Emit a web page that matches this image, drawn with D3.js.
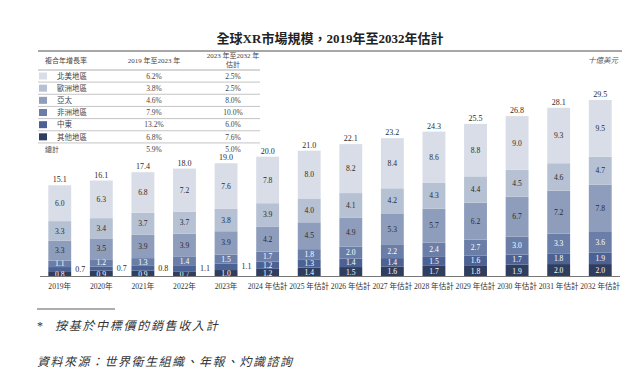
<!DOCTYPE html>
<html><head><meta charset="utf-8">
<script src="https://cdn.jsdelivr.net/npm/d3@7/dist/d3.min.js"></script>
<style>
html,body{margin:0;padding:0;background:#fff;}
svg{display:block;}
text{font-family:"Liberation Serif","Noto Sans CJK TC",serif;}
</style></head>
<body>
<svg id="c" width="640" height="376"></svg>
<script>
const years = ["2019年","2020年","2021年","2022年","2023年","2024 年估計","2025 年估計","2026 年估計","2027 年估計","2028 年估計","2029 年估計","2030 年估計","2031 年估計","2032 年估計"];
const totals = [15.1,16.1,17.4,18.0,19.0,20.0,21.0,22.1,23.2,24.3,25.5,26.8,28.1,29.5];
const seriesNames = ["其他地區","中東","非洲地區","亞太","歐洲地區","北美地區"];
const other   = [0.8,0.9,0.9,0.7,1.0,1.2,1.4,1.5,1.6,1.7,1.8,1.9,2.0,2.0];
const midEast = [0.7,0.7,0.8,1.1,1.1,1.2,1.3,1.4,1.4,1.5,1.6,1.7,1.8,1.9];
const africa  = [1.1,1.2,1.3,1.4,1.5,1.7,1.8,2.0,2.2,2.4,2.7,3.0,3.3,3.6];
const apac    = [3.3,3.5,3.9,3.9,3.9,4.2,4.5,4.9,5.3,5.7,6.2,6.7,7.2,7.8];
const europe  = [3.3,3.4,3.7,3.7,3.8,3.9,4.0,4.1,4.2,4.3,4.4,4.5,4.6,4.7];
const nAmerica= [6.0,6.3,6.8,7.2,7.6,7.8,8.0,8.2,8.4,8.6,8.8,9.0,9.3,9.5];
const legendNames = ["北美地區","歐洲地區","亞太","非洲地區","中東","其他地區"];
const cagr1 = ["6.2%","3.8%","4.6%","7.9%","13.2%","6.8%"];
const cagr2 = ["2.5%","2.5%","8.0%","10.0%","6.0%","7.6%"];
const totalCagr = ["5.9%","5.0%"];
const colors = ["#2f3d5f","#4d6294","#6b7ea8","#8f9dbd","#b6c1d4","#d8dde7"];
const textColors = ["#fff","#fff","#fff","#2a2a2a","#2a2a2a","#2a2a2a"];

const svg = d3.select("#c");
const seriesVals = [other, midEast, africa, apac, europe, nAmerica];
const rows = years.map((y,i)=>{const o={year:y,i:i}; seriesNames.forEach((s,k)=>o[s]=seriesVals[k][i]); return o;});
const stack = d3.stack().keys(seriesNames)(rows);

const x = d3.scaleBand().domain(years).range([40,620]).paddingInner(0.45).paddingOuter(0.2);
const y = d3.scaleLinear().domain([0,29.5]).range([276,100]);

// title
svg.append("text").attr("x",330).attr("y",43).attr("text-anchor","middle")
  .attr("font-size",13).attr("font-weight","bold").attr("fill","#222")
  .text("全球XR市場規模，2019年至2032年估計");
svg.append("line").attr("x1",38).attr("x2",622).attr("y1",51).attr("y2",51)
  .attr("stroke","#8a8a8a").attr("stroke-width",1.6);
svg.append("text").attr("x",618).attr("y",63).attr("text-anchor","end")
  .attr("font-size",7.5).attr("font-style","italic").attr("fill","#555").text("十億美元");

// bars
const g = svg.append("g");
const isOut = (k,d)=>k===1 && d.data.i<5;
stack.forEach((s,k)=>{
  g.selectAll(null).data(s).enter().append("rect")
    .attr("x",d=>x(d.data.year)).attr("width",x.bandwidth())
    .attr("y",d=>y(d[1])).attr("height",d=>y(d[0])-y(d[1]))
    .attr("fill",colors[k]);
  g.selectAll(null).data(s).enter().append("text")
    .attr("x",d=>isOut(k,d)? x(d.data.year)+x.bandwidth()+4 : x(d.data.year)+x.bandwidth()/2)
    .attr("y",d=>(y(d[0])+y(d[1]))/2+(k===0?3.2:2.6))
    .attr("text-anchor",d=>isOut(k,d)?"start":"middle")
    .attr("font-size",d=>isOut(k,d)?8:7.6).attr("fill",d=>isOut(k,d)?"#2a2a2a":textColors[k])
    .text(d=>(d[1]-d[0]).toFixed(1));
});
// totals
g.selectAll(null).data(rows).enter().append("text")
  .attr("x",d=>x(d.year)+x.bandwidth()/2).attr("y",d=>y(stack[5][d.i][1])-3)
  .attr("text-anchor","middle").attr("font-size",8).attr("fill","#2a2a2a")
  .text(d=>totals[d.i].toFixed(1));

// axis
const ax = svg.append("g").attr("transform","translate(0,276)")
  .call(d3.axisBottom(x).tickSize(0).tickPadding(8));
ax.select(".domain").attr("stroke","#777").attr("stroke-width",1)
  .attr("d","M40,0.5H620");
ax.selectAll("text").attr("font-size",7.6).attr("fill","#333")
  .attr("font-family","\"Liberation Serif\",\"Noto Sans CJK TC\",serif");

// legend table
const lt = svg.append("g");
lt.append("text").attr("x",45).attr("y",63).attr("font-size",7).attr("fill","#444").text("複合年增長率");
lt.append("text").attr("x",154).attr("y",63).attr("text-anchor","middle").attr("font-size",7).attr("fill","#444").text("2019 年至2023 年");
lt.append("text").attr("x",233).attr("y",58).attr("text-anchor","middle").attr("font-size",7).attr("fill","#444").text("2023 年至2032 年");
lt.append("text").attr("x",233).attr("y",67).attr("text-anchor","middle").attr("font-size",7).attr("fill","#444").text("估計");
lt.append("line").attr("x1",38).attr("x2",260).attr("y1",70).attr("y2",70).attr("stroke","#999").attr("stroke-width",0.8);
const rowY = d3.scaleLinear().domain([0,6]).range([76,149]);
legendNames.forEach((n,i)=>{
  const cy = rowY(i);
  lt.append("rect").attr("x",39).attr("y",cy-3.5).attr("width",8).attr("height",7)
    .attr("fill",colors[5-i]);
  lt.append("text").attr("x",57).attr("y",cy+2.7).attr("font-size",7.5).attr("fill","#444").text(n);
  lt.append("text").attr("x",154).attr("y",cy+2.7).attr("text-anchor","middle").attr("font-size",7.5).attr("fill","#444").text(cagr1[i]);
  lt.append("text").attr("x",233).attr("y",cy+2.7).attr("text-anchor","middle").attr("font-size",7.5).attr("fill","#444").text(cagr2[i]);
  lt.append("line").attr("x1",38).attr("x2",260).attr("y1",cy+6.1).attr("y2",cy+6.1).attr("stroke","#aaa").attr("stroke-width",0.7);
});
const ty = rowY(6);
lt.append("text").attr("x",45).attr("y",ty+2.7).attr("font-size",7).attr("fill","#444").text("總計");
lt.append("text").attr("x",154).attr("y",ty+2.7).attr("text-anchor","middle").attr("font-size",7.5).attr("fill","#444").text(totalCagr[0]);
lt.append("text").attr("x",233).attr("y",ty+2.7).attr("text-anchor","middle").attr("font-size",7.5).attr("fill","#444").text(totalCagr[1]);

// footnotes
svg.append("line").attr("x1",37).attr("x2",115).attr("y1",309).attr("y2",309).attr("stroke","#333").attr("stroke-width",0.8);
svg.append("text").attr("x",37).attr("y",330).attr("font-size",12).attr("fill","#333").text("*");
svg.append("text").attr("x",55).attr("y",330).attr("font-size",12).attr("font-style","italic")
  .attr("letter-spacing",1.7).attr("fill","#333").text("按基於中標價的銷售收入計");
svg.append("text").attr("x",37).attr("y",366).attr("font-size",12).attr("font-style","italic")
  .attr("letter-spacing",1.5).attr("fill","#333").text("資料來源：世界衛生組織、年報、灼識諮詢");
</script>
</body></html>
